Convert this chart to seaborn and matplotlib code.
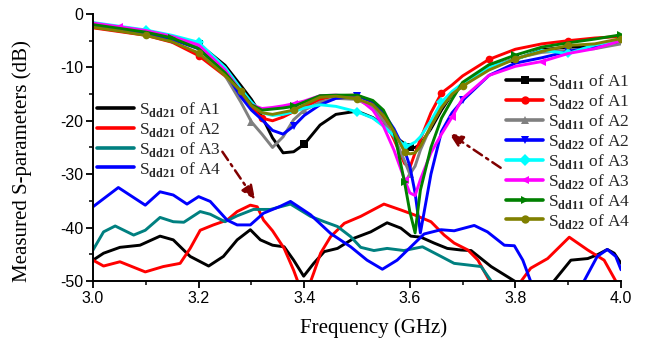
import matplotlib
matplotlib.use("Agg")
import matplotlib.pyplot as plt
import seaborn as sns
import pandas as pd
from matplotlib.lines import Line2D
from matplotlib.ticker import MultipleLocator

# ---------------- data ----------------
freq = [3.00, 3.05, 3.10, 3.15, 3.20, 3.25, 3.28, 3.30, 3.32, 3.34, 3.36, 3.38, 3.40,
        3.43, 3.46, 3.50, 3.53, 3.55, 3.57, 3.59, 3.60, 3.61, 3.62, 3.64, 3.66, 3.68,
        3.70, 3.75, 3.80, 3.85, 3.90, 3.95, 4.00]

sdd11_a1 = [-2.0, -2.8, -3.5, -4.5, -5.6, -9.6, -13.4, -16.0, -19.2, -23.2, -26.0, -25.8, -24.4,
            -20.8, -18.8, -18.2, -19.4, -20.8, -22.8, -24.3, -25.0, -25.0, -24.4, -21.5, -18.0, -15.0,
            -13.5, -9.9, -8.5, -6.7, -6.2, -6.2, -5.2]
sdd22_a1 = [-2.6, -3.3, -4.0, -5.3, -7.8, -11.6, -15.0, -17.4, -19.5, -20.0, -19.3, -18.3, -17.4,
            -16.0, -15.3, -15.2, -16.5, -19.5, -23.5, -28.0, -28.8, -26.0, -23.5, -18.5, -14.8, -13.3,
            -11.6, -8.5, -6.6, -5.6, -5.0, -4.5, -4.2]
sdd11_a2 = [-2.0, -2.6, -3.2, -4.6, -6.2, -11.5, -16.5, -20.2, -22.5, -25.0, -23.0, -19.8, -18.0,
            -16.5, -15.8, -16.0, -17.5, -20.0, -23.0, -27.5, -30.0, -28.5, -25.5, -21.0, -17.5, -15.0,
            -13.0, -10.0, -8.3, -7.2, -6.8, -6.5, -5.6]
sdd22_a2 = [-2.3, -2.9, -3.6, -4.8, -6.5, -10.8, -15.5, -18.0, -19.8, -21.8, -22.5, -21.0, -19.0,
            -17.0, -15.8, -15.4, -16.4, -18.5, -21.5, -25.5, -28.5, -33.5, -41.0, -30.0, -22.0, -18.5,
            -16.2, -11.5, -9.2, -8.2, -7.0, -6.2, -4.9]
sdd11_a3 = [-1.6, -2.3, -3.0, -4.0, -5.3, -10.0, -14.0, -16.5, -18.5, -19.0, -18.8, -18.3, -17.6,
            -17.0, -17.3, -18.3, -19.5, -21.0, -22.8, -24.7, -24.5, -24.0, -23.0, -20.0, -16.5, -14.5,
            -13.0, -10.0, -8.5, -6.8, -7.4, -5.8, -4.9]
sdd22_a3 = [-1.7, -2.4, -3.1, -4.2, -5.8, -10.5, -14.5, -17.0, -17.7, -17.5, -17.2, -16.8, -16.3,
            -15.3, -15.2, -15.6, -18.0, -21.0, -25.5, -31.0, -33.5, -34.0, -31.0, -26.0, -22.5, -19.3,
            -15.8, -11.5, -9.8, -8.9, -7.4, -6.5, -5.0]
sdd11_a4 = [-2.0, -2.7, -3.4, -4.5, -6.5, -11.0, -14.5, -17.0, -18.0, -17.8, -17.6, -17.3, -16.5,
            -15.3, -15.2, -15.2, -16.2, -18.0, -22.0, -31.5, -37.0, -41.0, -33.0, -25.0, -19.5, -16.0,
            -12.8, -9.5, -7.7, -6.2, -5.4, -4.7, -3.9]
sdd22_a4 = [-2.5, -3.2, -4.0, -5.2, -7.3, -11.5, -14.5, -17.2, -18.5, -18.8, -18.4, -18.0, -17.0,
            -15.6, -15.4, -15.9, -17.0, -19.0, -22.0, -25.8, -26.2, -26.0, -24.8, -21.0, -17.5, -15.0,
            -13.5, -10.5, -8.4, -7.0, -5.9, -5.6, -4.6]

f21_a1 = [3.000, 3.020, 3.051, 3.089, 3.127, 3.152, 3.184, 3.219, 3.247, 3.273, 3.298, 3.317,
          3.340, 3.362, 3.380, 3.399, 3.418, 3.438, 3.463, 3.494, 3.526, 3.557, 3.583, 3.602,
          3.621, 3.646, 3.671, 3.697, 3.716, 3.754, 3.798, 3.820, 3.850, 3.873, 3.905, 3.937,
          3.955, 3.974, 3.987, 4.000]
sdd21_a1 = [-46.1, -44.8, -43.7, -43.3, -41.6, -42.3, -45.4, -47.2, -45.4, -42.3, -40.4, -42.3,
            -43.3, -43.6, -46.1, -49.1, -46.7, -44.5, -43.9, -42.0, -40.8, -39.1, -40.1, -41.6,
            -41.8, -42.9, -43.9, -44.2, -44.3, -47.3, -50.0, -52.0, -52.0, -50.0, -46.1, -45.8,
            -45.1, -44.1, -44.8, -46.7]

f21_a2 = [3.000, 3.020, 3.051, 3.099, 3.133, 3.165, 3.184, 3.203, 3.228, 3.254, 3.273, 3.298,
          3.311, 3.323, 3.340, 3.362, 3.380, 3.395, 3.405, 3.418, 3.431, 3.450, 3.476, 3.507,
          3.551, 3.583, 3.608, 3.640, 3.665, 3.684, 3.710, 3.729, 3.751, 3.770, 3.800, 3.811,
          3.829, 3.861, 3.902, 3.937, 3.968, 3.990, 4.000]
sdd21_a2 = [-46.1, -47.2, -46.4, -48.3, -47.3, -46.7, -43.9, -40.5, -39.5, -38.6, -37.0, -35.8,
            -36.1, -38.6, -40.6, -43.9, -48.0, -52.0, -52.0, -48.5, -44.8, -41.7, -39.2, -37.9,
            -35.6, -36.7, -37.6, -38.9, -41.4, -42.9, -44.2, -46.1, -50.0, -53.0, -53.0, -50.0,
            -47.6, -45.8, -41.8, -44.2, -46.1, -50.0, -52.0]

f21_a3 = [3.000, 3.020, 3.042, 3.077, 3.099, 3.127, 3.152, 3.172, 3.203, 3.222, 3.250, 3.273,
          3.304, 3.336, 3.374, 3.412, 3.438, 3.463, 3.488, 3.507, 3.532, 3.557, 3.589, 3.624,
          3.659, 3.684, 3.710, 3.735, 3.754, 3.770]
sdd21_a3 = [-44.2, -40.8, -39.7, -41.4, -40.5, -38.1, -38.9, -39.0, -37.0, -37.5, -38.9, -37.8,
            -36.6, -36.6, -35.6, -37.9, -38.9, -39.8, -41.7, -43.7, -44.3, -43.9, -44.3, -43.6,
            -45.4, -46.7, -47.0, -47.3, -50.0, -53.0]

f21_a4 = [3.000, 3.048, 3.099, 3.127, 3.152, 3.178, 3.200, 3.222, 3.254, 3.273, 3.298, 3.323,
          3.355, 3.374, 3.412, 3.450, 3.488, 3.519, 3.548, 3.576, 3.602, 3.627, 3.659, 3.684,
          3.722, 3.747, 3.779, 3.798, 3.814, 3.829, 3.850, 3.910, 3.930, 3.955, 3.974, 3.990,
          4.000]
sdd21_a4 = [-36.1, -32.5, -35.8, -33.3, -33.9, -35.6, -34.2, -35.1, -38.6, -39.5, -39.5, -37.3,
            -36.0, -35.1, -37.6, -41.1, -43.6, -46.1, -47.8, -46.1, -43.6, -41.2, -40.4, -40.6,
            -39.6, -40.8, -43.3, -43.4, -46.1, -50.1, -54.0, -54.0, -50.0, -45.4, -44.1, -45.4,
            -47.9]

x_ticks = [3.0, 3.2, 3.4, 3.6, 3.8, 4.0]
y_ticks = [0, -10, -20, -30, -40, -50]

# ---------------- style ----------------
sns.set_theme(style="ticks")
plt.rcParams['font.family'] = ['Liberation Serif', 'DejaVu Serif']
plt.rcParams['mathtext.fontset'] = 'custom'
plt.rcParams['mathtext.rm'] = 'Liberation Serif'
plt.rcParams['mathtext.bf'] = 'Liberation Serif:bold'

fig = plt.figure(figsize=(6.49, 3.46), dpi=100)
ax = fig.add_axes([0.1433, 0.1879, 0.8136, 0.7717])

def lab(kind, name):
    return r"S$_{\mathbf{" + kind + r"}}$ of " + name

s11_series = [
    (sdd11_a1, "#000000", "s", [4, 12, 20, 28], lab("dd11", "A1")),
    (sdd22_a1, "#ff0000", "o", [4, 8, 13, 17, 24, 27, 30], lab("dd22", "A1")),
    (sdd11_a2, "#808080", "^", [2, 7, 12, 20, 28], lab("dd11", "A2")),
    (sdd22_a2, "#0000ff", "v", [3, 11, 15, 26, 30], lab("dd22", "A2")),
    (sdd11_a3, "#00ffff", "D", [2, 4, 15, 19, 24, 30], lab("dd11", "A3")),
    (sdd22_a3, "#ff00ff", "<", [1, 11, 19, 25, 29], lab("dd22", "A3")),
    (sdd11_a4, "#008000", ">", [3, 11, 19, 28, 32], lab("dd11", "A4")),
    (sdd22_a4, "#808000", "o", [2, 4, 6, 11, 15, 19, 26, 28, 30, 32], lab("dd22", "A4")),
]

s21_series = [
    (f21_a1, sdd21_a1, "#000000", lab("dd21", "A1")),
    (f21_a2, sdd21_a2, "#ff0000", lab("dd21", "A2")),
    (f21_a3, sdd21_a3, "#008080", lab("dd21", "A3")),
    (f21_a4, sdd21_a4, "#0000ff", lab("dd21", "A4")),
]

lw = 2.1
left_handles, right_handles = [], []
for fx, vals, col, lbl in s21_series:
    df = pd.DataFrame({"f": fx, "db": vals})
    sns.lineplot(data=df, x="f", y="db", ax=ax, color=col, lw=lw, legend=False)
    left_handles.append(Line2D([], [], color=col, lw=2.6, label=lbl))

for vals, col, mk, me, lbl in s11_series:
    df = pd.DataFrame({"f": freq, "db": vals})
    sns.lineplot(data=df, x="f", y="db", ax=ax, color=col, lw=lw, marker=mk,
                 markersize=5.5, markeredgewidth=0, markevery=me, legend=False)
    right_handles.append(Line2D([], [], color=col, lw=2.6, marker=mk, markersize=6,
                                markeredgewidth=0, label=lbl))

ax.set_xlim(3.0, 4.0)
ax.set_ylim(-50, 0)
ax.set_xticks(x_ticks)
ax.set_yticks(y_ticks)
ax.set_xticklabels([f"{v:.1f}" for v in x_ticks])
ax.set_yticklabels([f"{v}" for v in y_ticks])
ax.xaxis.set_minor_locator(MultipleLocator(0.1))
ax.yaxis.set_minor_locator(MultipleLocator(5))
for t in ax.get_xticklabels() + ax.get_yticklabels():
    t.set_family(['Liberation Sans', 'DejaVu Sans'])
    t.set_fontsize(11.5)
ax.tick_params(which='major', direction='out', length=5, width=1.3, pad=2, colors='black')
ax.tick_params(which='minor', direction='out', length=3, width=1.1, colors='black')
for s in ['top', 'right']:
    ax.spines[s].set_visible(False)
for s in ['left', 'bottom']:
    ax.spines[s].set_linewidth(1.4)
    ax.spines[s].set_color('black')

ax.set_xlabel("Frequency (GHz)", fontsize=15, color='black')
ax.set_ylabel("Measured S-parameters (dB)", fontsize=15, color='black')
ax.xaxis.set_label_coords(0.532, -0.14)
ax.yaxis.set_label_coords(-0.115, 0.45)

leg1 = ax.legend(handles=left_handles, loc='upper left', bbox_to_anchor=(0.008, 0.678),
                 frameon=False, fontsize=12.5, handlelength=2.1, handletextpad=0.3,
                 labelspacing=0.05, borderpad=0, borderaxespad=0)
ax.add_artist(leg1)
ax.legend(handles=right_handles, loc='upper left', bbox_to_anchor=(0.783, 0.781),
          frameon=False, fontsize=12.5, handlelength=2.1, handletextpad=0.3,
          labelspacing=0.05, borderpad=0, borderaxespad=0)

# dashed arrows
arrow_col = "#800000"
for (x0, y0), (x1, y1) in [((3.245, -25.8), (3.307, -34.8)), ((3.772, -28.8), (3.674, -22.3))]:
    ax.annotate("", xy=(x1, y1), xytext=(x0, y0),
                arrowprops=dict(arrowstyle="-|>,head_length=0.7,head_width=0.3",
                                color=arrow_col, lw=1.8, linestyle=(0, (4, 2, 1, 2)),
                                shrinkA=0, shrinkB=0))

fig.savefig("out.png", dpi=100)
